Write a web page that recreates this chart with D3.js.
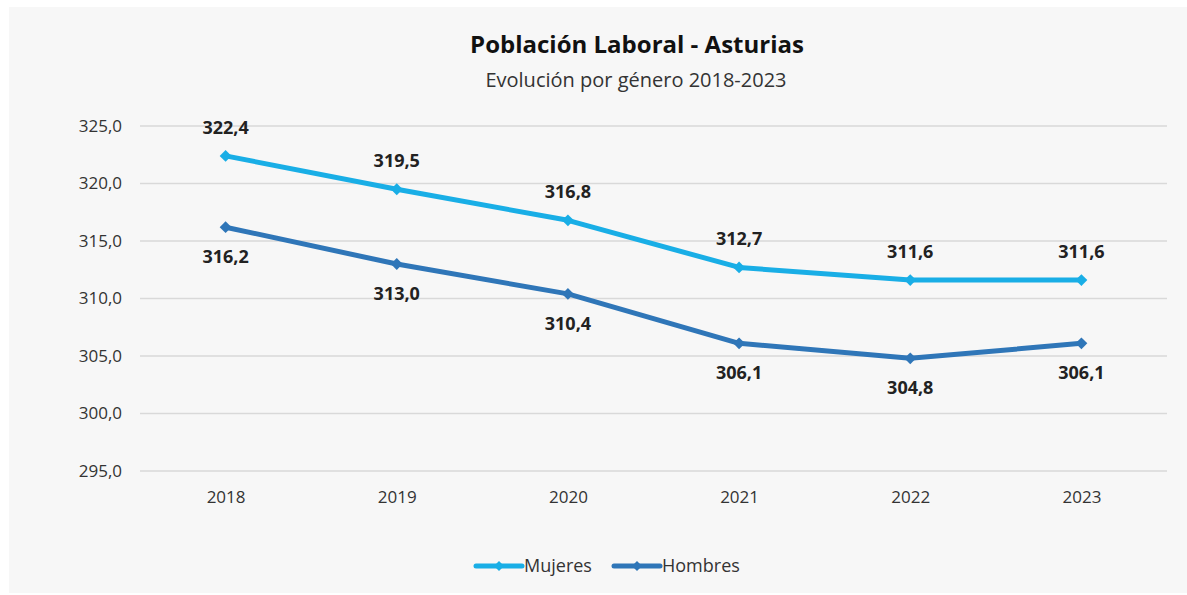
<!DOCTYPE html>
<html>
<head>
<meta charset="utf-8">
<script src="https://cdn.jsdelivr.net/npm/d3@7"></script>
<style>
  body { margin: 0; background: #ffffff; }
  svg { display: block; font-family: "Open Sans", "Noto Sans", sans-serif; }
</style>
</head>
<body>
<div id="chart"></div>
<script>
// chart data
var years = ['2018', '2019', '2020', '2021', '2022', '2023'];
var mujeres = [322.4, 319.5, 316.8, 312.7, 311.6, 311.6];
var hombres = [316.2, 313.0, 310.4, 306.1, 304.8, 306.1];
var yTicks = [295, 300, 305, 310, 315, 320, 325];

var series = [
  { name: 'Mujeres', values: mujeres, color: '#19aee6', labelPos: 'above' },
  { name: 'Hombres', values: hombres, color: '#2f76b8', labelPos: 'below' }
];

var svgWidth = 1187;
var svgHeight = 595;

var svg = d3.select('#chart')
  .append('svg')
  .attr('width', svgWidth)
  .attr('height', svgHeight);

// light panel behind the chart
svg.append('rect')
  .attr('x', 9).attr('y', 7)
  .attr('width', svgWidth - 9).attr('height', svgHeight - 9)
  .attr('fill', '#f7f7f7');

// plot area bounds
var plotLeft = 140, plotRight = 1167, plotTop = 126, plotBottom = 471;

var x = d3.scalePoint()
  .domain(years)
  .range([plotLeft, plotRight])
  .padding(0.5);

var y = d3.scaleLinear()
  .domain([295, 325])
  .range([plotBottom, plotTop]);

// gridlines
svg.append('g')
  .selectAll('line')
  .data(yTicks)
  .enter()
  .append('line')
  .attr('x1', plotLeft).attr('x2', plotRight)
  .attr('y1', d => y(d)).attr('y2', d => y(d))
  .attr('stroke', '#d9d9d9')
  .attr('stroke-width', 1.5);

var fmt = v => d3.format('.1f')(v).replace('.', ',');

// y axis
var yAxis = svg.append('g')
  .attr('transform', `translate(${plotLeft},0)`)
  .call(d3.axisLeft(y).tickValues(yTicks).tickSize(0).tickPadding(18).tickFormat(fmt));
yAxis.select('.domain').remove();
yAxis.selectAll('text')
  .attr('font-size', 17)
  .attr('fill', '#333')
  .style('font-family', '"Open Sans", sans-serif');

// x axis
var xAxis = svg.append('g')
  .attr('transform', `translate(0,${plotBottom})`)
  .call(d3.axisBottom(x).tickSize(0).tickPadding(20));
xAxis.select('.domain').remove();
xAxis.selectAll('text')
  .attr('font-size', 17)
  .attr('fill', '#333')
  .style('font-family', '"Open Sans", sans-serif');

var line = d3.line()
  .x((d, i) => x(years[i]))
  .y(d => y(d));

// rotated square as diamond marker
var diamond = d3.symbol().type(d3.symbolSquare).size(70);

series.forEach(s => {
  svg.append('path')
    .datum(s.values)
    .attr('d', line)
    .attr('fill', 'none')
    .attr('stroke', s.color)
    .attr('stroke-width', 5)
    .attr('stroke-linejoin', 'round');

  svg.append('g')
    .selectAll('path')
    .data(s.values)
    .enter()
    .append('path')
    .attr('d', diamond)
    .attr('transform', (d, i) => `translate(${x(years[i])},${y(d)}) rotate(45)`)
    .attr('fill', s.color);

  svg.append('g')
    .selectAll('text')
    .data(s.values)
    .enter()
    .append('text')
    .attr('x', (d, i) => x(years[i]))
    .attr('y', d => s.labelPos === 'above' ? y(d) - 22 : y(d) + 36)
    .attr('text-anchor', 'middle')
    .attr('font-size', 18)
    .attr('font-weight', 'bold')
    .attr('fill', '#222')
    .text(d => fmt(d));
});

// titles
svg.append('text')
  .attr('x', 637).attr('y', 53)
  .attr('text-anchor', 'middle')
  .attr('font-size', 24)
  .attr('font-weight', 'bold')
  .attr('fill', '#111')
  .text('Población Laboral - Asturias');

svg.append('text')
  .attr('x', 636).attr('y', 87)
  .attr('text-anchor', 'middle')
  .attr('font-size', 20)
  .attr('fill', '#333')
  .text('Evolución por género 2018-2023');

// legend
var legendItems = [
  { name: 'Mujeres', color: series[0].color, x: 476 },
  { name: 'Hombres', color: series[1].color, x: 614 }
];
var legend = svg.append('g').attr('transform', 'translate(0,566)');
legendItems.forEach(l => {
  legend.append('line')
    .attr('x1', l.x).attr('x2', l.x + 46)
    .attr('y1', 0).attr('y2', 0)
    .attr('stroke', l.color)
    .attr('stroke-width', 5)
    .attr('stroke-linecap', 'round');
  legend.append('path')
    .attr('d', d3.symbol().type(d3.symbolSquare).size(50))
    .attr('transform', `translate(${l.x + 23},0) rotate(45)`)
    .attr('fill', l.color);
  legend.append('text')
    .attr('x', l.x + 48).attr('y', 6)
    .attr('font-size', 18)
    .attr('fill', '#333')
    .text(l.name);
});
</script>
</body>
</html>
